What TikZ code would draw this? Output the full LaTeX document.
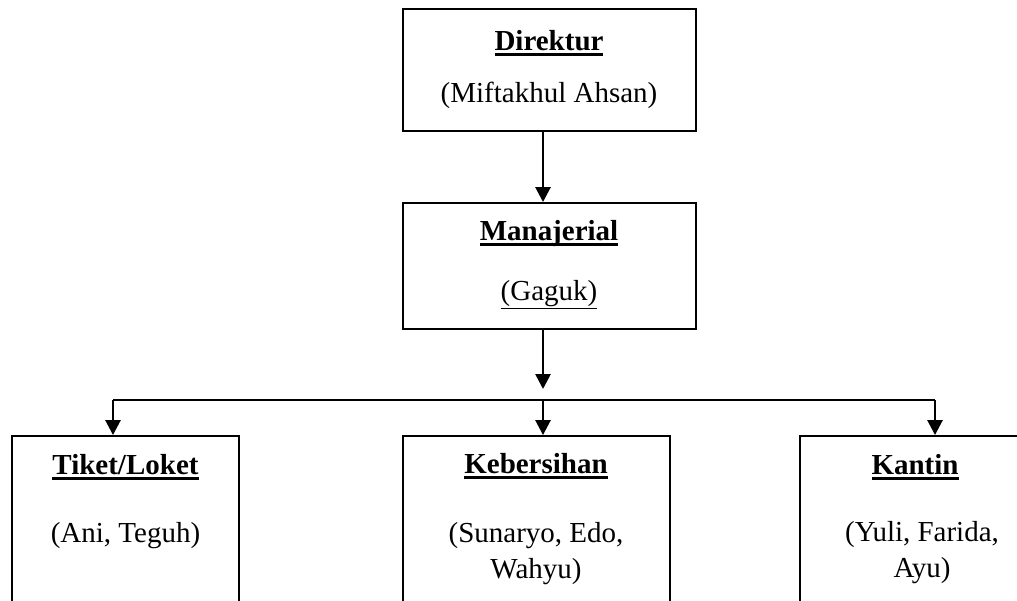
\documentclass[tikz,border=0pt]{standalone}
\usepackage{fontspec}
\setmainfont{Liberation Serif}
\usetikzlibrary{arrows.meta}

\newcommand{\bul}[1]{\setbox0\hbox{\textbf{#1}}\rlap{\rule[-3.2pt]{\wd0}{1.3pt}}\box0}

\begin{document}
\begin{tikzpicture}[x=0.02cm,y=-0.02cm,
  font=\fontsize{16.5}{20.4}\selectfont,
  box/.style={draw,line width=1.1pt,inner sep=0pt},
  title/.style={anchor=base,inner sep=0pt},
  names/.style={anchor=base,inner sep=0pt,align=center},
  arr/.style={line width=1.5pt,-{Triangle[length=0.3cm,width=0.3cm]}}]
\clip (0,0) rectangle (1017,600);

\node[box,minimum width=5.86cm,minimum height=2.44cm] (dirbox) at (549.5,70) {};
\node[box,minimum width=5.86cm,minimum height=2.52cm] (manbox) at (549.5,266) {};
\node[box,minimum width=4.54cm,minimum height=4cm] (tikbox) at (125.5,536) {};
\node[box,minimum width=5.34cm,minimum height=4cm] (kebbox) at (536.5,536) {};
\node[box,minimum width=4.72cm,minimum height=4cm] (kanbox) at (918,536) {};

\node[title] (dirtitle) at (549,50) {\bul{Direktur}};
\node[names] (dirname) at (549,102) {(Miftakhul Ahsan)};
\node[title] (mantitle) at (549,240) {\bul{Manajerial}};
\node[names] (manname) at (549,300) {\underline{(Gaguk)}};
\node[title] (tiktitle) at (125.5,474) {\bul{Tiket/Loket}};
\node[names] (tikname) at (125.5,542) {(Ani, Teguh)};
\node[title] (kebtitle) at (536,473) {\bul{Kebersihan}};
\node[names] (kebname) at (536,578) {(Sunaryo, Edo,\\ Wahyu)};
\node[title] (kantitle) at (915,474) {\bul{Kantin}};
\node[names] (kanname) at (922,577) {(Yuli, Farida,\\ Ayu)};

\coordinate (split) at (543,400);
\coordinate (mandown) at (543,389);
\coordinate (tikin) at (113,400);
\coordinate (kanin) at (935,400);

\draw[arr] (dirbox.south -| split) -- (manbox.north -| split);
\draw[arr] (manbox.south -| split) -- (mandown);
\draw[line width=1.1pt] (tikin) -- (kanin);
\draw[arr] (tikin) -- (tikin |- tikbox.north);
\draw[arr] (split) -- (split |- kebbox.north);
\draw[arr] (kanin) -- (kanin |- kanbox.north);
\end{tikzpicture}
\end{document}
